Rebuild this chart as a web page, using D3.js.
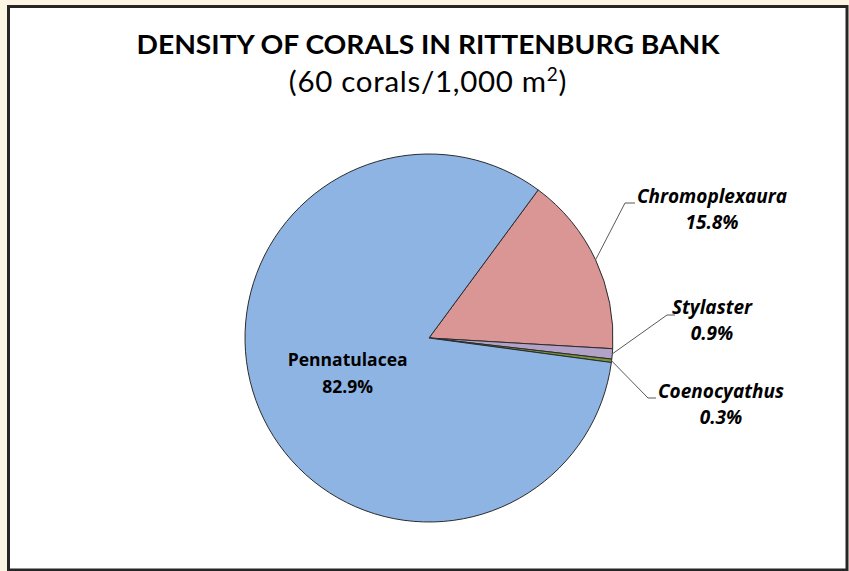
<!DOCTYPE html>
<html>
<head>
<meta charset="utf-8">
<script src="https://cdn.jsdelivr.net/npm/d3@7"></script>
<style>
  html, body { margin: 0; padding: 0; background: #FDF5E4; }
  svg { display: block; }
  text { font-family: "Open Sans", Lato, sans-serif; fill: #000; }
</style>
</head>
<body>
<svg id="chart" width="849" height="571"></svg>
<script>
// ---- data ----
const categories = ["Chromoplexaura", "Stylaster", "Coenocyathus", "Pennatulacea"];
const percentages = [15.8, 0.9, 0.3, 82.9];
const percentLabels = ["15.8%", "0.9%", "0.3%", "82.9%"];
const sliceColors = ["#D99694", "#B3A2C7", "#77933C", "#8EB4E3"];
const titleText = "DENSITY OF CORALS IN RITTENBURG BANK";
const subtitleText = "(60 corals/1,000 m";

// ---- layout ----
const W = 849, H = 571;
const cx = 429, cy = 338, R = 184;
const startDeg = 36.4;
const labelLayout = {
  "Chromoplexaura": { elbow: [625, 203], end: [635, 203], tx: 712, ty: 203, outside: true },
  "Stylaster":      { elbow: [667, 315], end: [675, 315], tx: 712, ty: 314, outside: true },
  "Coenocyathus":   { elbow: [648, 398], end: [656, 398], tx: 721, ty: 398, outside: true },
  "Pennatulacea":   { outside: false }
};

const svg = d3.select("#chart");

svg.append("rect")
  .attr("x", 8.5).attr("y", 6.5)
  .attr("width", 838.5).attr("height", 563.5)
  .attr("fill", "#FFFFFF")
  .attr("stroke", "#262626")
  .attr("stroke-width", 3);

// titles
svg.append("text")
  .attr("x", 428).attr("y", 53.5)
  .attr("text-anchor", "middle")
  .style("font-family", "Lato, 'Open Sans', sans-serif")
  .attr("font-size", 26.5).attr("font-weight", "bold")
  .attr("textLength", 583).attr("lengthAdjust", "spacingAndGlyphs")
  .text(titleText);

const sub = svg.append("text")
  .attr("x", 428).attr("y", 92)
  .attr("text-anchor", "middle")
  .style("font-family", "Lato, 'Open Sans', sans-serif")
  .style("letter-spacing", "0.7px")
  .attr("font-size", 29.5);
sub.append("tspan").text(subtitleText);
sub.append("tspan").attr("font-size", 19).attr("dy", -11).text("2");
sub.append("tspan").attr("dy", 11).text(")");

// pie
const data = categories.map((c, i) => ({ name: c, value: percentages[i], label: percentLabels[i], color: sliceColors[i] }));
const pie = d3.pie().sort(null).value(d => d.value)
  .startAngle(startDeg * Math.PI / 180)
  .endAngle(startDeg * Math.PI / 180 + 2 * Math.PI);
const arcs = pie(data);
const arc = d3.arc().innerRadius(0).outerRadius(R);

const g = svg.append("g").attr("transform", `translate(${cx},${cy})`);
g.selectAll("path.slice").data(arcs).join("path")
  .attr("class", "slice")
  .attr("d", arc)
  .attr("fill", d => d.data.color)
  .attr("stroke", "#2b2b2b")
  .attr("stroke-width", 1)
  .attr("stroke-linejoin", "round");

// labels
arcs.forEach(a => {
  const L = labelLayout[a.data.name];
  const mid = (a.startAngle + a.endAngle) / 2;
  if (L.outside) {
    const px = cx + R * Math.sin(mid), py = cy - R * Math.cos(mid);
    svg.append("polyline")
      .attr("points", [[px, py], L.elbow, L.end].map(p => p.join(",")).join(" "))
      .attr("fill", "none").attr("stroke", "#595959").attr("stroke-width", 1);
    const t = svg.append("text")
      .attr("text-anchor", "middle")
      .attr("font-size", 19).attr("font-weight", "bold").attr("font-style", "italic");
    t.append("tspan").attr("x", L.tx).attr("y", L.ty).text(a.data.name);
    t.append("tspan").attr("x", L.tx).attr("y", L.ty + 26).text(a.data.label);
  } else {
    const r = R * 0.48;
    const lx = cx + r * Math.sin(mid), ly = cy - r * Math.cos(mid);
    const t = svg.append("text")
      .attr("text-anchor", "middle")
      .attr("font-size", 17.5).attr("font-weight", "bold");
    t.append("tspan").attr("x", lx).attr("y", ly - 6).text(a.data.name);
    t.append("tspan").attr("x", lx).attr("y", ly + 21).text(a.data.label);
  }
});
</script>
</body>
</html>
